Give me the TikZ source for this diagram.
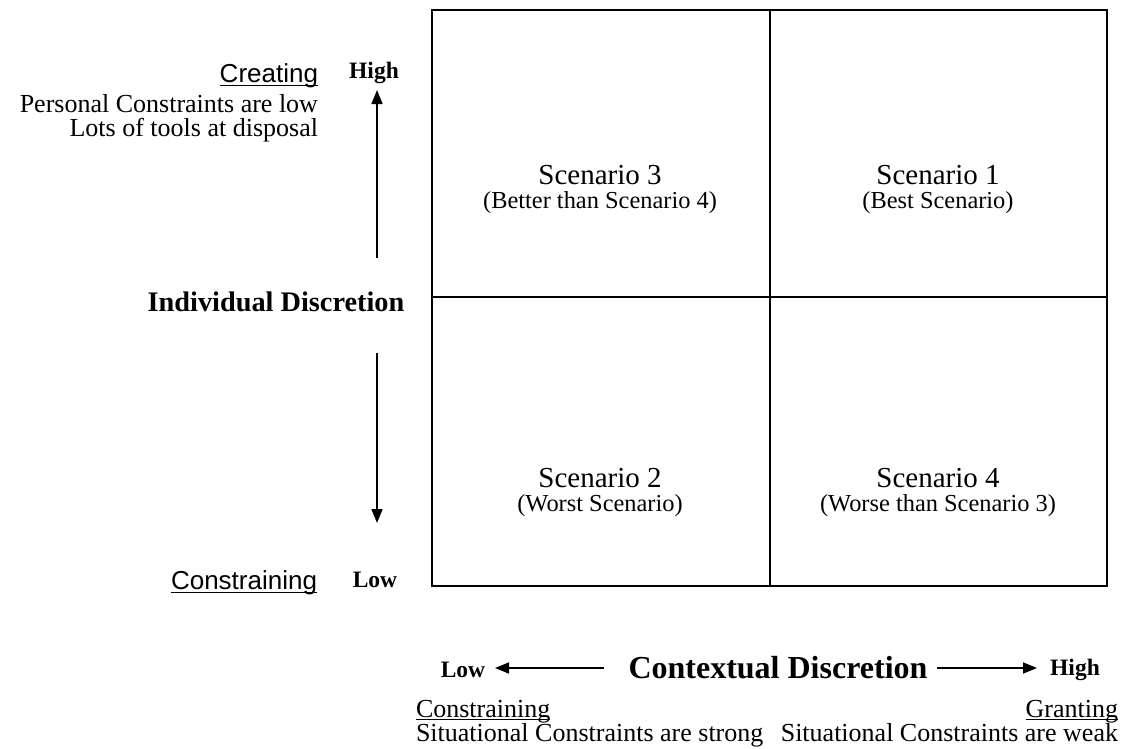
\documentclass[tikz,border=0pt]{standalone}
\usepackage{fontspec}
\setmainfont{Liberation Serif}
\newfontfamily\arialfont{Liberation Sans}
\usetikzlibrary{arrows.meta}
\newcommand\myul[1]{\begingroup\setbox0\hbox{#1}\rlap{\rule[-0.13em]{\wd0}{0.06em}}\box0\endgroup}
\tikzset{
  txt/.style={inner sep=0pt, outer sep=0pt},
  scen/.style={txt, font=\fontsize{29}{33}\selectfont},
  sub/.style={txt, font=\fontsize{24.4}{28}\selectfont},
  side/.style={txt, font=\fontsize{26}{30}\selectfont},
  lvl/.style={txt, font=\fontsize{23.5}{27}\selectfont\bfseries},
  axis/.style={txt, font=\fontsize{28.3}{32}\selectfont\bfseries},
  sanslab/.style={txt, font=\fontsize{26}{30}\selectfont\arialfont},
  gridline/.style={line width=1.6pt},
  arr/.style={line width=1.6pt, -{Triangle[length=14pt,width=11pt]}}
}
\begin{document}
\begin{tikzpicture}[x=1pt,y=-1pt]
\useasboundingbox (0,0) rectangle (1140,748);
% grid
\coordinate (tl) at (432,10);
\coordinate (br) at (1107,586);
\coordinate (mt) at (770,10);
\coordinate (mb) at (770,586);
\coordinate (ml) at (432,297);
\coordinate (mr) at (1107,297);
\draw[gridline] (tl) rectangle (br);
\draw[gridline] (mt) -- (mb);
\draw[gridline] (ml) -- (mr);
% scenarios
\node[scen] (s3) at (600,175) {Scenario 3};
\node[sub] (s3b) at (600,203) {(Better than Scenario 4)};
\node[scen] (s1) at (938,175) {Scenario 1};
\node[sub] (s1b) at (938,203) {(Best Scenario)};
\node[scen] (s2) at (600,478) {Scenario 2};
\node[sub] (s2b) at (600,506) {(Worst Scenario)};
\node[scen] (s4) at (938,478) {Scenario 4};
\node[sub] (s4b) at (938,506) {(Worse than Scenario 3)};
% vertical axis
\node[lvl] (vhigh) at (374,73) {High};
\node[lvl] (vlow) at (375,580) {Low};
\node[axis] (ind) at (276,302) {Individual Discretion};
\coordinate (ua) at (377,258);
\coordinate (ut) at (377,90);
\coordinate (da) at (377,353);
\coordinate (dt) at (377,523);
\draw[arr] (ua) -- (ut);
\draw[arr] (da) -- (dt);
\node[sanslab, anchor=east] (creat) at (318,76) {\myul{Creating}};
\node[side, anchor=east] (pers) at (318,104) {Personal Constraints are low};
\node[side, anchor=east] (lots) at (318,130) {Lots of tools at disposal};
\node[sanslab, anchor=east] (cons1) at (317,583) {\myul{Constraining}};
% horizontal axis
\node[lvl] (hlow) at (463,670) {Low};
\node[axis, font=\fontsize{32}{36}\selectfont\bfseries] (ctx) at (778,668) {Contextual Discretion};
\node[lvl] (hhigh) at (1075,670) {High};
\coordinate (la) at (604,668);
\coordinate (lt) at (495,668);
\coordinate (ra) at (937,668);
\coordinate (rt) at (1037,668);
\draw[arr] (la) -- (lt);
\draw[arr] (ra) -- (rt);
\node[side, anchor=base west] (cons2) at (416,717) {\myul{Constraining}};
\node[side, anchor=base east] (grant) at (1118,717) {\myul{Granting}};
\node[side, anchor=base west] (strong) at (416,741) {Situational Constraints are strong};
\node[side, anchor=base east] (weak) at (1118,741) {Situational Constraints are weak};
\end{tikzpicture}
\end{document}
